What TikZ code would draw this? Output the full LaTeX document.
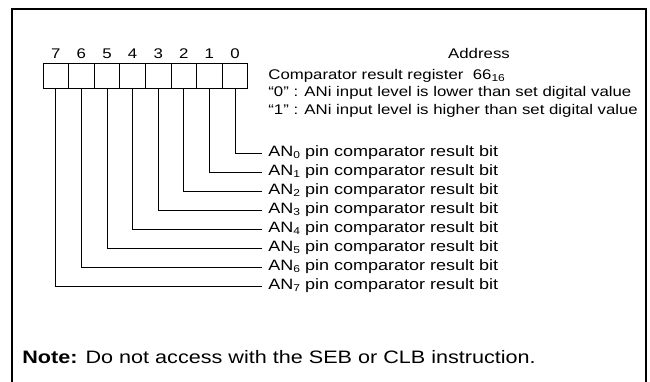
\documentclass[tikz,border=0pt]{standalone}
\usepackage{fontspec}
\setmainfont{Liberation Sans}[FakeStretch=1.2]
\newcommand\ansub[1]{\raisebox{-0.2ex}{\fontsize{10}{10}\selectfont #1}}
\begin{document}
\begin{tikzpicture}[x=1pt, y=-1pt, line width=0.8pt, font=\fontsize{14}{17}\selectfont,
    bitbox/.style={draw, minimum width=25.6pt, minimum height=25pt, inner sep=0pt},
    pinlabel/.style={anchor=west, inner xsep=6pt, inner ysep=0pt, text height=10pt, text depth=3pt,
      font=\fontsize{15}{17}\selectfont},
    plain/.style={anchor=base west, inner sep=0pt}]
  \useasboundingbox (0,0) rectangle (650,382);
  % el marco, abierto por abajo
  \draw[line width=2pt] (12,382) -- (12,9) -- (646,9) -- (646,382);
  % el registro y sus bits
  \foreach \b in {0,...,7} {
    \node[bitbox] (b\b) at ({55.8+(7-\b)*25.6},75.5) {};
    \node[anchor=base] (n\b) at ({55.8+(7-\b)*25.6},59) {\b};
  }
  % los textos de arriba
  \node[anchor=base, inner sep=0pt] (addr) at (479,59) {Address};
  \node[plain] (reg) at (268,80) {Comparator result register\ \ 66\ansub{16}};
  \node[plain] (zero) at (268,97) {“0” : ANi input level is lower than set digital value};
  \node[plain] (one) at (268,115) {“1” : ANi input level is higher than set digital value};
  % las salidas de cada bit
  \foreach \b in {0,...,7} {
    \node[pinlabel] (l\b) at (262,{153+19*\b}) {AN\ansub{\b} pin comparator result bit};
    \draw (b\b.south) |- (l\b.west);
  }
  % la nota
  \node[plain, font=\fontsize{18}{20}\selectfont] (note) at (22,363)
    {\textbf{Note:} Do not access with the SEB or CLB instruction.};
\end{tikzpicture}
\end{document}
